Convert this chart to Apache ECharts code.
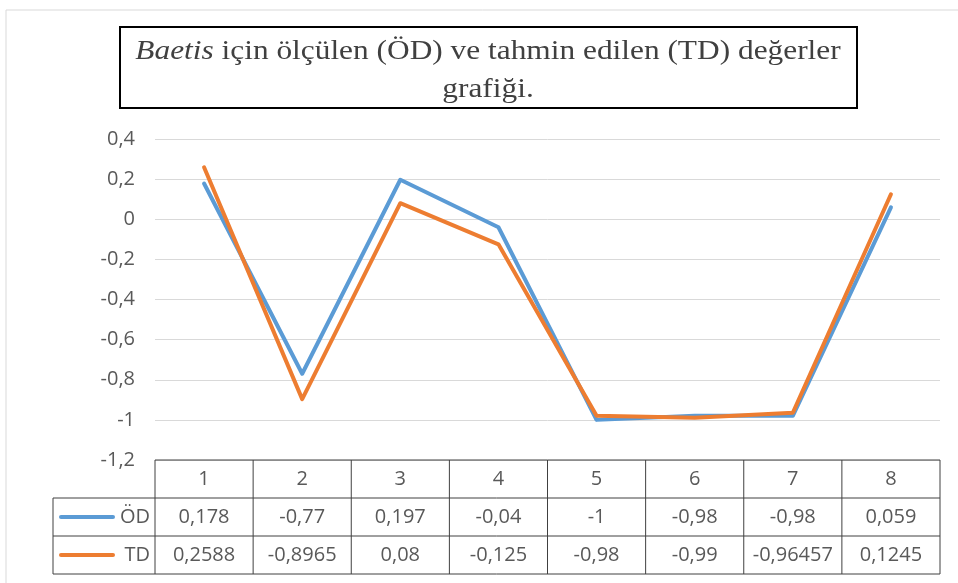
<!DOCTYPE html>
<html>
<head>
<meta charset="utf-8">
<script src="https://cdn.jsdelivr.net/npm/echarts@6/dist/echarts.min.js"></script>
<style>
  html, body { margin: 0; padding: 0; background: #fff; }
  #container { width: 958px; height: 583px; }
</style>
</head>
<body>
<div id="container"></div>
<script>
  var categories = ['1', '2', '3', '4', '5', '6', '7', '8'];
  var odValues = [0.178, -0.77, 0.197, -0.04, -1, -0.98, -0.98, 0.059];
  var tdValues = [0.2588, -0.8965, 0.08, -0.125, -0.98, -0.99, -0.96457, 0.1245];
  var seriesNames = ['ÖD', 'TD'];
  var colors = ['#5B9BD5', '#ED7D31'];

  var dom = document.getElementById('container');
  var myChart = echarts.init(dom, null, { renderer: 'canvas' });

  var font = '"Open Sans", sans-serif';
  var fsize = 20;
  function fmt(v) { return String(v).replace('.', ','); }

  var option = {
    animation: false,
    grid: { left: 155, right: 18, top: 139, bottom: 123 },
    xAxis: {
      type: 'category',
      data: categories,
      boundaryGap: true,
      axisLine: { show: false },
      axisTick: { show: false },
      axisLabel: { show: false }
    },
    yAxis: {
      type: 'value',
      min: -1.2,
      max: 0.4,
      interval: 0.2,
      axisLine: { show: false },
      axisTick: { show: false },
      axisLabel: {
        margin: 20,
        color: '#595959',
        fontSize: fsize,
        fontFamily: font,
        formatter: function (v) { return fmt(Math.round(v * 10) / 10); }
      },
      splitLine: { lineStyle: { color: '#d9d9d9', width: 1 } }
    },
    series: [
      {
        name: seriesNames[0], type: 'line', data: odValues, symbol: 'none',
        lineStyle: { color: colors[0], width: 4, cap: 'round', join: 'round' }
      },
      {
        name: seriesNames[1], type: 'line', data: tdValues, symbol: 'none',
        lineStyle: { color: colors[1], width: 4, cap: 'round', join: 'round' }
      }
    ]
  };
  myChart.setOption(option);

  // table + title built from the axis positions
  var c0 = myChart.convertToPixel({ xAxisIndex: 0 }, 0);
  var c1 = myChart.convertToPixel({ xAxisIndex: 0 }, 1);
  var colW = c1 - c0;
  var tLeft = c0 - colW / 2;
  var tRight = tLeft + colW * categories.length;
  var tTop = myChart.convertToPixel({ yAxisIndex: 0 }, -1.2);
  var rowH = 38;
  var legLeft = 53;
  var lineC = '#404040';
  var els = [];

  function hline(x1, x2, y) {
    els.push({ type: 'line', shape: { x1: x1, y1: y, x2: x2, y2: y }, style: { stroke: lineC, lineWidth: 1 } });
  }
  function vline(x, y1, y2) {
    els.push({ type: 'line', shape: { x1: x, y1: y1, x2: x, y2: y2 }, style: { stroke: lineC, lineWidth: 1 } });
  }
  function cellText(txt, x, y, align) {
    els.push({ type: 'text', x: x, y: y, style: {
      text: txt, fill: '#595959', font: fsize + 'px ' + font, align: align || 'center', verticalAlign: 'middle'
    } });
  }

  hline(tLeft, tRight, tTop);
  hline(legLeft, tRight, tTop + rowH);
  hline(legLeft, tRight, tTop + rowH * 2);
  hline(legLeft, tRight, tTop + rowH * 3);
  vline(legLeft, tTop + rowH, tTop + rowH * 3);
  for (var i = 0; i <= categories.length; i++) {
    vline(tLeft + colW * i, tTop, tTop + rowH * 3);
  }
  var rows = [odValues, tdValues];
  categories.forEach(function (c, i) {
    var cx = tLeft + colW * (i + 0.5);
    cellText(c, cx, tTop + rowH * 0.5);
    rows.forEach(function (r, j) {
      cellText(fmt(r[i]), cx, tTop + rowH * (j + 1.5));
    });
  });
  seriesNames.forEach(function (n, j) {
    var cy = tTop + rowH * (j + 1.5);
    els.push({ type: 'line', shape: { x1: legLeft + 8, y1: cy, x2: legLeft + 60, y2: cy },
      style: { stroke: colors[j], lineWidth: 4, lineCap: 'round' } });
    cellText(n, tLeft - 5, cy, 'right');
  });

  // outer chart border
  els.push({ type: 'rect', shape: { x: 6, y: 10, width: 1000, height: 1000 },
    style: { fill: 'none', stroke: '#d9d9d9', lineWidth: 1 }, z: -1 });

  // title box
  els.push({ type: 'rect', shape: { x: 120, y: 27, width: 737, height: 81 },
    style: { fill: '#fff', stroke: '#000', lineWidth: 2 } });
  els.push({ type: 'text', x: 488, y: 33, scaleX: 1.12, originX: 0, style: {
    text: '{i|Baetis} için ölçülen (ÖD) ve tahmin edilen (TD) değerler\ngrafiği.',
    font: '28px "Liberation Serif", serif', fill: '#404040', align: 'center', lineHeight: 38,
    rich: { i: { fontStyle: 'italic', fontFamily: '"Liberation Serif", serif', fontSize: 28, fill: '#404040' } }
  } });

  myChart.setOption({ graphic: { elements: els } });

  window.addEventListener('resize', myChart.resize);
</script>
</body>
</html>
